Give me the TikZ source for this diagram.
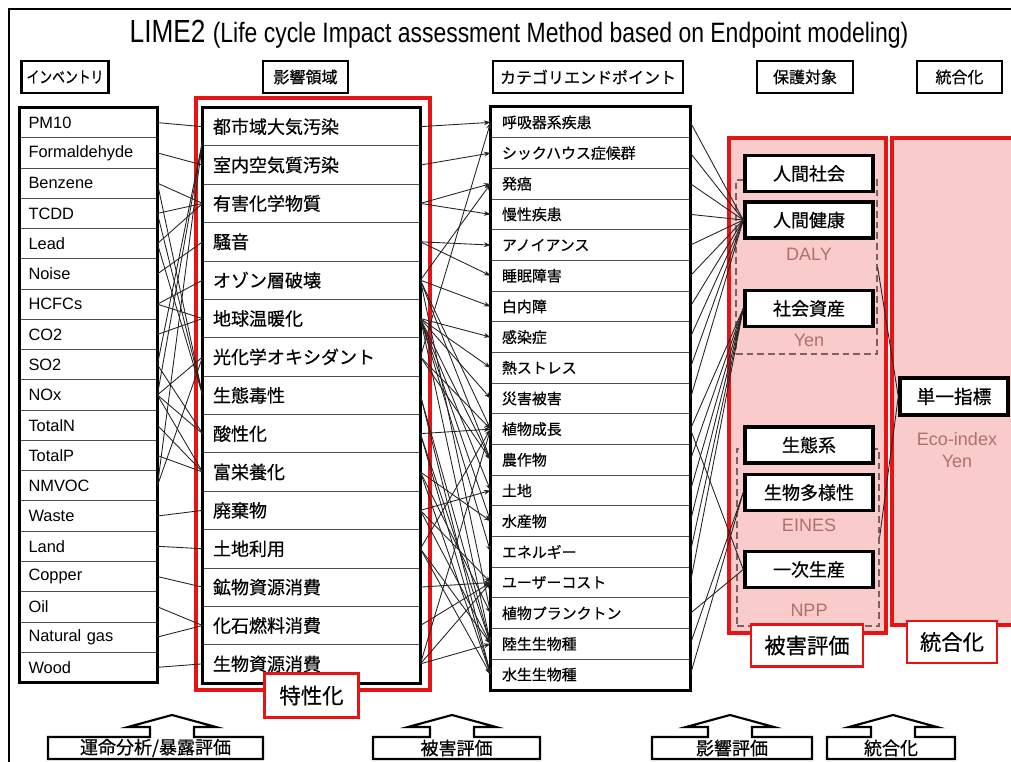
\documentclass[tikz,border=0pt]{standalone}
\usepackage{fontspec}
\setmainfont{Liberation Sans}
\newfontfamily\jp[FakeBold=0.5]{Noto Sans CJK JP}
\newfontfamily\narrowfont[FakeStretch=0.82]{Liberation Sans}
\usetikzlibrary{arrows.meta,calc}
\newcommand\setfs[1]{\fontsize{#1}{#1}\selectfont}
\definecolor{pinkfill}{RGB}{249,203,203}
\definecolor{redline}{RGB}{230,20,20}
\definecolor{unitcol}{RGB}{176,112,112}
\definecolor{dashcol}{RGB}{125,95,95}
\definecolor{rowline}{RGB}{80,80,80}
\definecolor{conncol}{RGB}{35,35,35}
\newcommand\footbox[3]{%
  \draw[foot] ({#3-22},737) -- (#1,737) -- (#1,759) -- (#2,759) -- (#2,737) -- ({#3+22},737)
    -- ({#3+22},727) -- ({#3+44},727) -- (#3,715) -- ({#3-44},727) -- ({#3-22},727) -- cycle;}
\begin{document}
\begin{tikzpicture}[x=0.75pt,y=-0.75pt,
  every node/.style={inner sep=0pt},
  hdr/.style={draw=black,line width=2pt,fill=white,minimum height=24pt,font=\jp\setfs{12}},
  invrow/.style={draw=rowline,line width=0.6pt,fill=white,minimum height=22.7pt,text width=89.95pt,inner xsep=6.4pt,align=left,font=\setfs{12.3}},
  improw/.style={draw=rowline,line width=0.6pt,fill=white,minimum height=28.78pt,text width=147.75pt,inner xsep=7.5pt,align=left,font=\jp\setfs{13.5}},
  eprow/.style={draw=rowline,line width=0.6pt,fill=white,minimum height=23pt,text width=132.75pt,inner xsep=8.25pt,align=left,font=\jp\setfs{11.2}},
  colframe/.style={draw=black,line width=2.2pt},
  redframe/.style={draw=redline,line width=2.4pt},
  panel/.style={fill=pinkfill,draw=redline,line width=2.4pt},
  dashbox/.style={draw=dashcol,line width=0.9pt,dash pattern=on 5pt off 3pt},
  prot/.style={draw=black,line width=2.6pt,fill=white,minimum width=96pt,minimum height=27pt,font=\jp\setfs{13.5}},
  unit/.style={text=unitcol,font=\setfs{13.5}},
  redlab/.style={draw=redline,line width=2.2pt,fill=white,font=\jp\setfs{16}},
  conn/.style={draw=conncol,line width=0.65pt},
  arr/.style={conn,-{Stealth[length=5pt,width=3.6pt]}},
  foot/.style={draw=black,line width=1.6pt,fill=white},
  footlab/.style={font=\jp\setfs{13.5}},
]
\useasboundingbox (0,0) rectangle (1011,762);
\clip (0,0) rectangle (1011,762);
\fill[white] (0,0) rectangle (1011,762);
% outer frame
\draw[line width=1.6pt] (9,9) rectangle (1040,800);
% title
\node (title) at (519,34) {\narrowfont\setfs{24}LIME2 \setfs{21}(Life cycle Impact assessment Method based on Endpoint modeling)};
% headers
\node[hdr,minimum width=65pt] (hinv) at (65,77) {\scalebox{0.8}[1]{インベントリ}};
\node[hdr,minimum width=63.75pt] (himp) at (305.5,77) {影響領域};
\node[hdr,minimum width=142.5pt] (hep) at (588,77) {カテゴリエンドポイント};
\node[hdr,minimum width=72pt] (hprot) at (805,77) {保護対象};
\node[hdr,minimum width=63.75pt] (hint) at (959.5,77) {統合化};
% pink panels
\path[panel] (729,138) rectangle (886,633);
\path[panel] (892,138) rectangle (1040,625);
\node[dashbox,minimum width=105.75pt,minimum height=130.5pt] (dash1) at (806.5,267) {};
\node[dashbox,minimum width=106.5pt,minimum height=132.75pt] (dash2) at (808,537.5) {};
% impact red frame
\path[redframe] (196,98) rectangle (430,690);
% inventory rows
\foreach \t [count=\i from 0] in {PM10,Formaldehyde,Benzene,TCDD,Lead,Noise,HCFCs,CO2,SO2,NOx,TotalN,TotalP,NMVOC,Waste,Land,Copper,Oil,Natural gas,Wood}
  \node[invrow] (inv\i) at (88.5,{107.5+30.26*(\i+0.5)}) {\t};
\path[colframe] (inv0.north west) rectangle (inv18.south east);
% impact rows
\foreach \t [count=\i from 0] in {都市域大気汚染,室内空気質汚染,有害化学物質,騒音,オゾン層破壊,地球温暖化,光化学オキシダント,生態毒性,酸性化,富栄養化,廃棄物,土地利用,鉱物資源消費,化石燃料消費,生物資源消費}
  \node[improw] (imp\i) at (311.5,{107.5+38.37*(\i+0.5)}) {\t};
\path[colframe] (imp0.north west) rectangle (imp14.south east);
% endpoint rows
\foreach \t [count=\i from 0] in {呼吸器系疾患,シックハウス症候群,発癌,慢性疾患,アノイアンス,睡眠障害,白内障,感染症,熱ストレス,災害被害,植物成長,農作物,土地,水産物,エネルギー,ユーザーコスト,植物プランクトン,陸生生物種,水生生物種}
  \node[eprow] (ep\i) at (590.5,{107+30.68*(\i+0.5)}) {\t};
\path[colframe] (ep0.north west) rectangle (ep18.south east);
% inventory -> impact
\foreach \a/\b in {0/0,1/1,2/2,3/2,4/2,2/7,3/7,4/7,5/3,6/4,6/5,7/5,8/8,9/6,9/8,9/9,10/9,11/9,12/6,13/10,14/11,15/12,16/13,17/13,18/14}
  \draw[conn] (inv\a.east) -- (imp\b.west);
\foreach \a in {8,9,12}
  \draw[conn] (inv\a.east) -- ($(imp0.west)+(0,14)$);
% impact -> endpoint
\foreach \a/\b in {0/0,1/1,2/2,2/3,3/4,3/5,4/2,4/6,4/10,4/11,4/16,5/7,5/8,5/9,5/11,5/12,5/13,5/14,5/17,6/0,6/10,6/11,7/17,7/18,8/10,8/17,8/18,9/13,9/16,9/18,10/12,10/15,10/17,11/10,11/17,11/18,12/15,13/15,14/10,14/15,14/17}
  \draw[arr] (imp\a.east) -- (ep\b.west);
% protection targets
\node[prot] (hs) at (809,173.5) {人間社会};
\node[prot] (ph) at (809,220) {人間健康};
\node[prot] (ss) at (809,308.5) {社会資産};
\node[prot] (eco) at (809,445) {生態系};
\node[prot] (bio) at (809,492.5) {生物多様性};
\node[prot] (npp) at (809,569.5) {一次生産};
\node[unit] (daly) at (809,254) {DALY};
\node[unit] (yen1) at (809,340) {Yen};
\node[unit] (eines) at (809,525) {EINES};
\node[unit] (nppu) at (809,610) {NPP};
% endpoint -> protection
\foreach \a in {0,...,9} \draw[conn] (ep\a.east) -- (ph.west);
\foreach \a in {10,...,15} \draw[conn] (ep\a.east) -- (ss.west);
\foreach \a in {10,16} \draw[conn] (ep\a.east) -- (npp.west);
\foreach \a in {17,18} \draw[conn] (ep\a.east) -- (bio.west);
% single index
\node[prot,minimum width=81pt,minimum height=27.75pt,font=\jp\setfs{14}] (single) at (954,396.5) {単一指標};
\node[unit] (ecoidx) at (957,439) {Eco-index};
\node[unit] (yen2) at (957,461) {Yen};
\draw[conn] (dash1.east) -- (single.west);
\draw[conn] (dash2.east) -- (single.west);
% red labels
\node[redlab,minimum width=70pt,minimum height=33pt] (tok) at (311.5,695.5) {特性化};
\node[redlab,minimum width=84pt,minimum height=31pt] (hig) at (807,645.5) {被害評価};
\node[redlab,minimum width=67.5pt,minimum height=31.5pt] (tou) at (952,642) {統合化};
% footer
\footbox{48}{263}{172}
\footbox{373}{540}{452}
\footbox{652}{812}{730}
\footbox{827}{955}{893}
\node[footlab] (f1) at (155.5,748) {運命分析/暴露評価};
\node[footlab] (f2) at (456.5,748) {被害評価};
\node[footlab] (f3) at (732,748) {影響評価};
\node[footlab] (f4) at (891,748) {統合化};
\end{tikzpicture}
\end{document}
